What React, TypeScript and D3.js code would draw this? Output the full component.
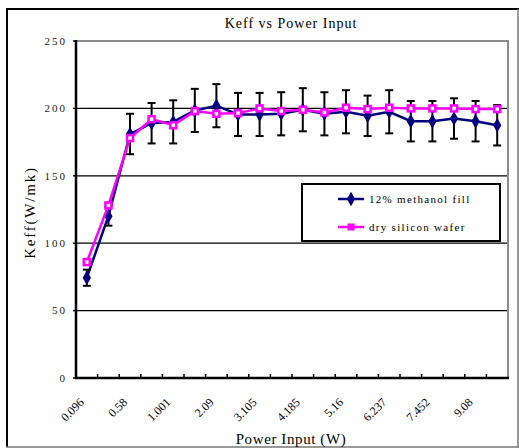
import React, { useRef, useEffect } from 'react'
import * as d3 from 'd3'

// x categories: 20 power steps, only every other one is labelled
const tickLabels = ['0.096', '0.58', '1.001', '2.09', '3.105', '4.185', '5.16', '6.237', '7.452', '9.08']
const methanol = [74.4, 120, 181, 189, 190, 198.5, 202, 195.5, 195.5, 196, 199, 196, 197.5, 194.5, 197.5, 190.5, 190.5, 192.5, 190.5, 187.5]
const methanolErr = [6, 7, 15, 15, 16, 16, 16, 16, 16, 16, 16, 16, 16, 15, 16, 15, 15, 15, 15, 15]
const dryWafer = [86, 128, 178, 192, 187.5, 198, 196, 196.5, 200, 198, 199, 197, 200.5, 199.5, 200.5, 200, 200, 200, 199.5, 199.5]
const yTicks = [0, 50, 100, 150, 200, 250]

const NAVY = '#000080'
const MAGENTA = '#ff00ff'
const FONT = 'Liberation Serif'

export default function App() {
  const svgRef = useRef<SVGSVGElement | null>(null)

  useEffect(() => {
    if (!svgRef.current) return
    const svg = d3.select(svgRef.current)
    svg.selectAll('*').remove()

    const W = 519
    const H = 448
    const left = 76
    const right = 508
    const top = 41
    const bottom = 378

    const idx = d3.range(methanol.length)
    const x = d3.scaleBand<number>().domain(idx).range([left, right])
    const cx = (i: number) => (x(i) ?? 0) + x.bandwidth() / 2
    const y = d3.scaleLinear().domain([0, 250]).range([bottom, top])

    svg.append('rect').attr('width', W).attr('height', H).attr('fill', 'white')

    // outer frame
    svg.append('line').attr('x1', 7).attr('x2', 7).attr('y1', 9).attr('y2', 447)
      .attr('stroke', 'black').attr('stroke-width', 2)
    svg.append('line').attr('x1', 6).attr('x2', 519).attr('y1', 9).attr('y2', 9)
      .attr('stroke', 'black').attr('stroke-width', 2)
    svg.append('line').attr('x1', 6).attr('x2', 519).attr('y1', 447).attr('y2', 447)
      .attr('stroke', '#777').attr('stroke-width', 1.5)
    svg.append('line').attr('x1', 518).attr('x2', 518).attr('y1', 9).attr('y2', 447)
      .attr('stroke', '#777').attr('stroke-width', 1.5)

    // title
    svg.append('text')
      .attr('x', 291).attr('y', 28)
      .attr('text-anchor', 'middle')
      .attr('font-size', 14).attr('letter-spacing', 1)
      .text('Keff vs Power Input')

    // gridlines
    yTicks.filter((t) => t > 0 && t < 250).forEach((t) => {
      svg.append('line')
        .attr('x1', left).attr('x2', right).attr('y1', y(t)).attr('y2', y(t))
        .attr('stroke', 'black').attr('stroke-width', 1.3)
    })

    // top and right plot borders (grey)
    svg.append('path')
      .attr('d', `M${left},${y(250)}H${right}V${bottom}`)
      .attr('fill', 'none').attr('stroke', '#8c8c8c').attr('stroke-width', 2)

    // y axis
    svg.append('line').attr('x1', left).attr('x2', left).attr('y1', y(250) - 1).attr('y2', bottom + 1)
      .attr('stroke', 'black').attr('stroke-width', 2.5)
    yTicks.forEach((t) => {
      svg.append('line').attr('x1', left - 3).attr('x2', left).attr('y1', y(t)).attr('y2', y(t))
        .attr('stroke', 'black').attr('stroke-width', 1.5)
      svg.append('text')
        .attr('x', left - 9).attr('y', y(t)).attr('dy', '0.35em')
        .attr('text-anchor', 'end')
        .attr('font-size', 11).attr('letter-spacing', 2).attr('fill', '#222')
        .text(t)
    })

    // x axis
    svg.append('line').attr('x1', left - 1).attr('x2', right + 1).attr('y1', bottom).attr('y2', bottom)
      .attr('stroke', 'black').attr('stroke-width', 2.5)
    d3.range(1, methanol.length).forEach((i) => {
      const xt = x(i) ?? 0
      svg.append('line').attr('x1', xt).attr('x2', xt).attr('y1', bottom - 4).attr('y2', bottom)
        .attr('stroke', 'black').attr('stroke-width', 1.5)
    })
    tickLabels.forEach((lab, k) => {
      const i = k * 2
      svg.append('text')
        .attr('transform', `translate(${cx(i) - 5},${bottom + 22}) rotate(-45)`)
        .attr('text-anchor', 'end')
        .attr('dy', '0.35em')
        .attr('font-size', 12)
        .text(lab)
    })

    // axis titles
    svg.append('text')
      .attr('x', 291).attr('y', 444)
      .attr('text-anchor', 'middle')
      .attr('font-size', 15).attr('letter-spacing', 0.6)
      .text('Power Input (W)')
    svg.append('text')
      .attr('transform', `translate(35,${(top + bottom) / 2 + 3}) rotate(-90)`)
      .attr('text-anchor', 'middle')
      .attr('font-size', 15).attr('letter-spacing', 1.8)
      .text('Keff(W/mk)')

    const line = d3.line<number>().x((_, i) => cx(i)).y((d) => y(d))

    // methanol series with error bars
    svg.append('path').datum(methanol).attr('d', line)
      .attr('fill', 'none').attr('stroke', NAVY).attr('stroke-width', 2.5)

    methanol.forEach((v, i) => {
      const e = methanolErr[i]
      const xc = cx(i)
      const g = svg.append('g').attr('stroke', 'black').attr('stroke-width', 2)
      g.append('line').attr('x1', xc).attr('x2', xc).attr('y1', y(v + e)).attr('y2', y(v - e))
      g.append('line').attr('x1', xc - 4).attr('x2', xc + 4).attr('y1', y(v + e)).attr('y2', y(v + e))
      g.append('line').attr('x1', xc - 4).attr('x2', xc + 4).attr('y1', y(v - e)).attr('y2', y(v - e))
    })

    const diamond = d3.symbol().type(d3.symbolDiamond).size(60)
    methanol.forEach((v, i) => {
      svg.append('path').attr('d', diamond())
        .attr('transform', `translate(${cx(i)},${y(v)})`)
        .attr('fill', NAVY)
    })

    // dry wafer series
    svg.append('path').datum(dryWafer).attr('d', line)
      .attr('fill', 'none').attr('stroke', MAGENTA).attr('stroke-width', 2.5)
    dryWafer.forEach((v, i) => {
      svg.append('rect')
        .attr('x', cx(i) - 3).attr('y', y(v) - 3).attr('width', 6).attr('height', 6)
        .attr('fill', 'white').attr('stroke', MAGENTA).attr('stroke-width', 2.5)
    })

    // legend
    const lg = svg.append('g')
    lg.append('rect').attr('x', 302).attr('y', 184).attr('width', 198).attr('height', 57)
      .attr('fill', 'white').attr('stroke', 'black').attr('stroke-width', 2)
    const entries = [
      { name: '12% methanol fill', color: NAVY, yy: 199, kind: 'diamond' },
      { name: 'dry silicon wafer', color: MAGENTA, yy: 227, kind: 'square' },
    ]
    entries.forEach((en) => {
      lg.append('line').attr('x1', 338).attr('x2', 364).attr('y1', en.yy).attr('y2', en.yy)
        .attr('stroke', en.color).attr('stroke-width', 2.5)
      if (en.kind === 'diamond') {
        lg.append('path').attr('d', diamond()).attr('transform', `translate(351,${en.yy})`).attr('fill', en.color)
      } else {
        lg.append('rect').attr('x', 348).attr('y', en.yy - 3).attr('width', 6).attr('height', 6)
          .attr('fill', en.color).attr('stroke', en.color).attr('stroke-width', 1)
      }
      lg.append('text')
        .attr('x', 369).attr('y', en.yy).attr('dy', '0.35em')
        .attr('font-size', 11).attr('letter-spacing', 1.3)
        .text(en.name)
    })
  }, [])

  return (
    <svg
      ref={svgRef}
      width={519}
      height={448}
      fontFamily={FONT}
      style={{ position: 'absolute', left: 0, top: 0, display: 'block' }}
    />
  )
}
